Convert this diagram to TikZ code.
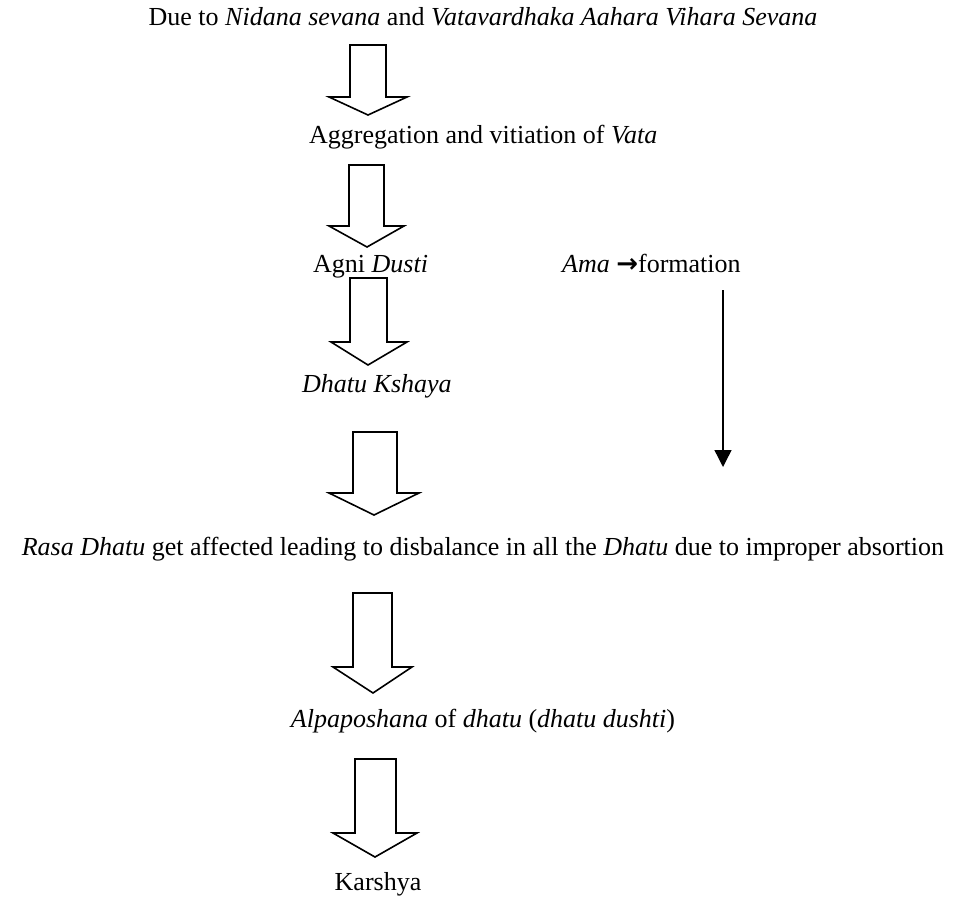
\documentclass[tikz,border=0pt]{standalone}
\usepackage{fontspec}
\setmainfont{Liberation Serif}
\newfontfamily\symfont{DejaVu Sans}
\usetikzlibrary{arrows.meta}
\begin{document}
\begin{tikzpicture}[x=1pt,y=-1pt,
  txt/.style={inner sep=0pt,font=\fontsize{26}{31}\selectfont},
  bigarrow/.style={draw=black,line width=1.6pt,line join=miter,fill=white},
  thinarrow/.style={draw=black,line width=1.4pt,-{Triangle[length=17pt,width=17pt]}}]
\useasboundingbox (0,0) rectangle (960,899);
% texts
\node[txt,anchor=base] (title) at (483,26) {Due to \textit{Nidana sevana} and \textit{Vatavardhaka Aahara Vihara Sevana}};
\node[txt,anchor=base west] (aggr) at (309,143) {Aggregation and vitiation of \textit{Vata}};
\node[txt,anchor=base west] (agni) at (313,272) {Agni \textit{Dusti}};
\node[txt,anchor=base west] (ama) at (562,272) {\textit{Ama} {\symfont\bfseries →}formation};
\node[txt,anchor=base west] (kshaya) at (302,392) {\textit{Dhatu Kshaya}};
\node[txt,anchor=base] (rasa) at (483,555) {\textit{Rasa Dhatu} get affected leading to disbalance in all the \textit{Dhatu} due to improper absortion};
\node[txt,anchor=base] (alpa) at (483,727) {\textit{Alpaposhana} of \textit{dhatu} (\textit{dhatu dushti})};
\node[txt,anchor=base] (karshya) at (378,890) {Karshya};
% block arrows
\draw[bigarrow] (350,45) -- (386,45) -- (386,97) -- (407,97) -- (368,115) -- (329,97) -- (350,97) -- cycle;
\draw[bigarrow] (349,165) -- (384,165) -- (384,226) -- (404,226) -- (367,247) -- (329,226) -- (349,226) -- cycle;
\draw[bigarrow] (350,278) -- (387,278) -- (387,342) -- (407,342) -- (368,365) -- (331,342) -- (350,342) -- cycle;
\draw[bigarrow] (353,432) -- (397,432) -- (397,493) -- (419,493) -- (374,515) -- (329,493) -- (353,493) -- cycle;
\draw[bigarrow] (353,593) -- (392,593) -- (392,667) -- (412,667) -- (373,693) -- (333,667) -- (353,667) -- cycle;
\draw[bigarrow] (355,759) -- (396,759) -- (396,833) -- (417,833) -- (375,857) -- (333,833) -- (355,833) -- cycle;
% thin arrow from Ama formation
\coordinate (amaTop) at (723,290);
\coordinate (amaEnd) at (723,467);
\draw[thinarrow] (amaTop) -- (amaEnd);
\end{tikzpicture}
\end{document}
